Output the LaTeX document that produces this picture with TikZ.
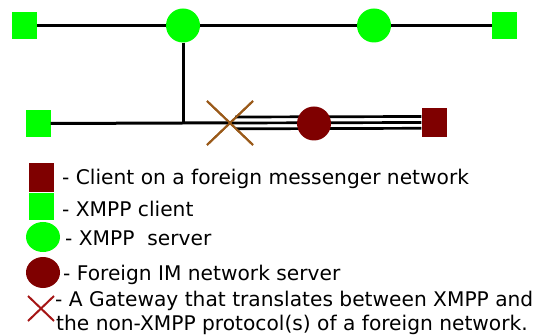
\documentclass[tikz,border=0pt]{standalone}
\usepackage{fontspec}
\setmainfont{DejaVu Sans}
\usetikzlibrary{shapes.misc,shapes.geometric}
\definecolor{xmppgreen}{HTML}{00FF00}
\definecolor{foreignred}{HTML}{7F0000}
\definecolor{gatebrown}{HTML}{9A5A1A}
\definecolor{legendcross}{HTML}{A51515}
\begin{document}
\begin{tikzpicture}[x=1pt,y=-1pt,
  client/.style={fill=xmppgreen,draw=none,minimum width=25pt,minimum height=27pt,inner sep=0pt},
  fclient/.style={fill=foreignred,draw=none,minimum width=25pt,minimum height=29pt,inner sep=0pt},
  server/.style={circle,fill=xmppgreen,draw=none,minimum size=34pt,inner sep=0pt},
  fserver/.style={circle,fill=foreignred,draw=none,minimum size=34pt,inner sep=0pt},
  gateway/.style={cross out,draw=gatebrown,line width=2pt,minimum width=44pt,minimum height=42pt,inner sep=0pt},
  link/.style={draw=black,line width=3pt},
  caption/.style={anchor=base west,inner sep=0pt,font=\fontsize{20.2}{24}\selectfont}
]
\useasboundingbox (0,0) rectangle (537,336);

% network nodes
\node[client]  (c1) at (24.5,25.5) {};
\node[server]  (s1) at (183,25.5) {};
\node[server]  (s2) at (374,25.5) {};
\node[client]  (c3) at (504.5,25.5) {};
\node[client]  (c2) at (38,123.5) {};
\coordinate    (j)  at (183,123);
\node[gateway] (gw) at (230,123) {};
\node[fclient] (fc) at (434,122.5) {};

% links between XMPP entities
\draw[link] (c1) -- (s1) -- (s2) -- (c3);
\draw[link] (s1.south) -- (j);
\draw[link] (c2.east) -- (j) -- (gw.center);

% triple line for the foreign protocol
\draw[link,line width=2.7pt] ([xshift=5pt,yshift=6pt]gw.center) -- ([yshift=6pt]fc.west);
\draw[link,line width=2.7pt] (gw.center) -- (fc.west);
\draw[link,line width=2.7pt] ([xshift=6pt,yshift=-5.8pt]gw.center) -- ([yshift=-5.8pt]fc.west);
\node[fserver] (fs) at (314,123.5) {};
\node[gateway] at (gw) {};

% legend symbols
\node[fclient,minimum height=29pt] (lfc) at (41.5,177.5) {};
\node[client,minimum height=27pt]  (lc)  at (41.5,206.5) {};
\node[ellipse,fill=xmppgreen,minimum width=34pt,minimum height=30pt,inner sep=0pt] (ls) at (43,237) {};
\node[ellipse,fill=foreignred,minimum width=34pt,minimum height=31pt,inner sep=0pt] (lfs) at (43,272.5) {};
\node[cross out,draw=legendcross,line width=2pt,minimum width=24pt,minimum height=23pt,inner sep=0pt] (lgw) at (41,308.5) {};

% legend captions
\node[caption] (t1) at (62,185) {- Client on a foreign messenger network};
\node[caption] (t2) at (62,216.5) {- XMPP client};
\node[caption] (t3) at (65,245) {- XMPP\ \ server};
\node[caption] (t4) at (63,280.5) {- Foreign IM network server};
\node[caption] (t5) at (55,306.5) {- A Gateway that translates between XMPP and};
\node[caption] (t6) at (56,330) {the non-XMPP protocol(s) of a foreign network.};
\end{tikzpicture}
\end{document}
